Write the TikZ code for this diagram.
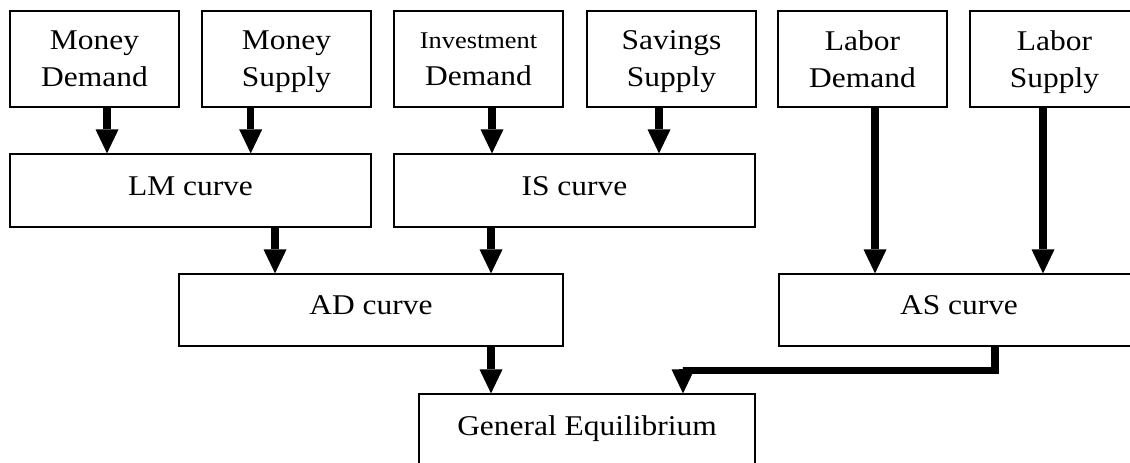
\documentclass[tikz,border=0pt]{standalone}
\usepackage{fontspec}
\setmainfont[FakeStretch=1.1]{Liberation Serif}
\usetikzlibrary{arrows.meta}
\begin{document}
\begin{tikzpicture}[x=1pt,y=-1pt,
  box/.style={draw, line width=1.2pt, inner sep=0pt, align=center,
    font=\fontsize{28.6}{37}\selectfont},
  topbox/.style={box, minimum width=169pt, minimum height=96pt, text depth=0pt},
  curvebox/.style={box, minimum height=73pt, text height=20pt, text depth=11pt},
  flow/.style={line width=7.5pt, line join=miter,
    -{Triangle[width=23pt,length=24pt,line width=0pt]}}]
\useasboundingbox (0,0) rectangle (1130,463);
\begin{scope}
\clip (0,0) rectangle (1130,463);
% markets
\node[topbox] (md) at (94.5,59) {Money\\Demand};
\node[topbox] (ms) at (286.5,59) {Money\\Supply};
\node[topbox] (id) at (478.5,59) {{\fontsize{24}{37}\selectfont Investment}\\Demand};
\node[topbox] (ss) at (671.5,59) {Savings\\Supply};
\node[topbox] (ld) at (862.5,59) {Labor\\Demand};
\node[topbox] (ls) at (1054.5,59) {Labor\\Supply};
% curves
\node[curvebox, minimum width=361pt] (lm) at (190.5,190.5) {LM curve};
\node[curvebox, minimum width=361pt] (is) at (574.5,190.5) {IS curve};
\node[curvebox, minimum width=384pt, minimum height=72pt] (ad) at (371,310) {AD curve};
\node[curvebox, minimum width=360pt, minimum height=72pt] (as) at (959,310) {AS curve};
\node[curvebox, minimum width=336pt] (ge) at (587,430.5) {General Equilibrium};
% flows
\draw[flow] ([xshift=12.5]md.south) -- ([xshift=12.5]md.south |- lm.north);
\draw[flow] ([xshift=-35.8]ms.south) -- ([xshift=-35.8]ms.south |- lm.north);
\draw[flow] ([xshift=13.5]id.south) -- ([xshift=13.5]id.south |- is.north);
\draw[flow] ([xshift=-12.5]ss.south) -- ([xshift=-12.5]ss.south |- is.north);
\draw[flow] ([xshift=12.5]ld.south) -- ([xshift=12.5]ld.south |- as.north);
\draw[flow] ([xshift=-11.5]ls.south) -- ([xshift=-11.5]ls.south |- as.north);
\draw[flow] ([xshift=-96]ad.north |- lm.south) -- ([xshift=-96]ad.north);
\draw[flow] ([xshift=-83.5]is.south) -- ([xshift=-83.5]is.south |- ad.north);
\draw[flow] ([xshift=120]ad.south) -- ([xshift=120]ad.south |- ge.north);
\draw[flow] ([xshift=36]as.south) |- ([xshift=96,yshift=23]ge.north) -- ([xshift=96]ge.north);
\end{scope}
\end{tikzpicture}
\end{document}
